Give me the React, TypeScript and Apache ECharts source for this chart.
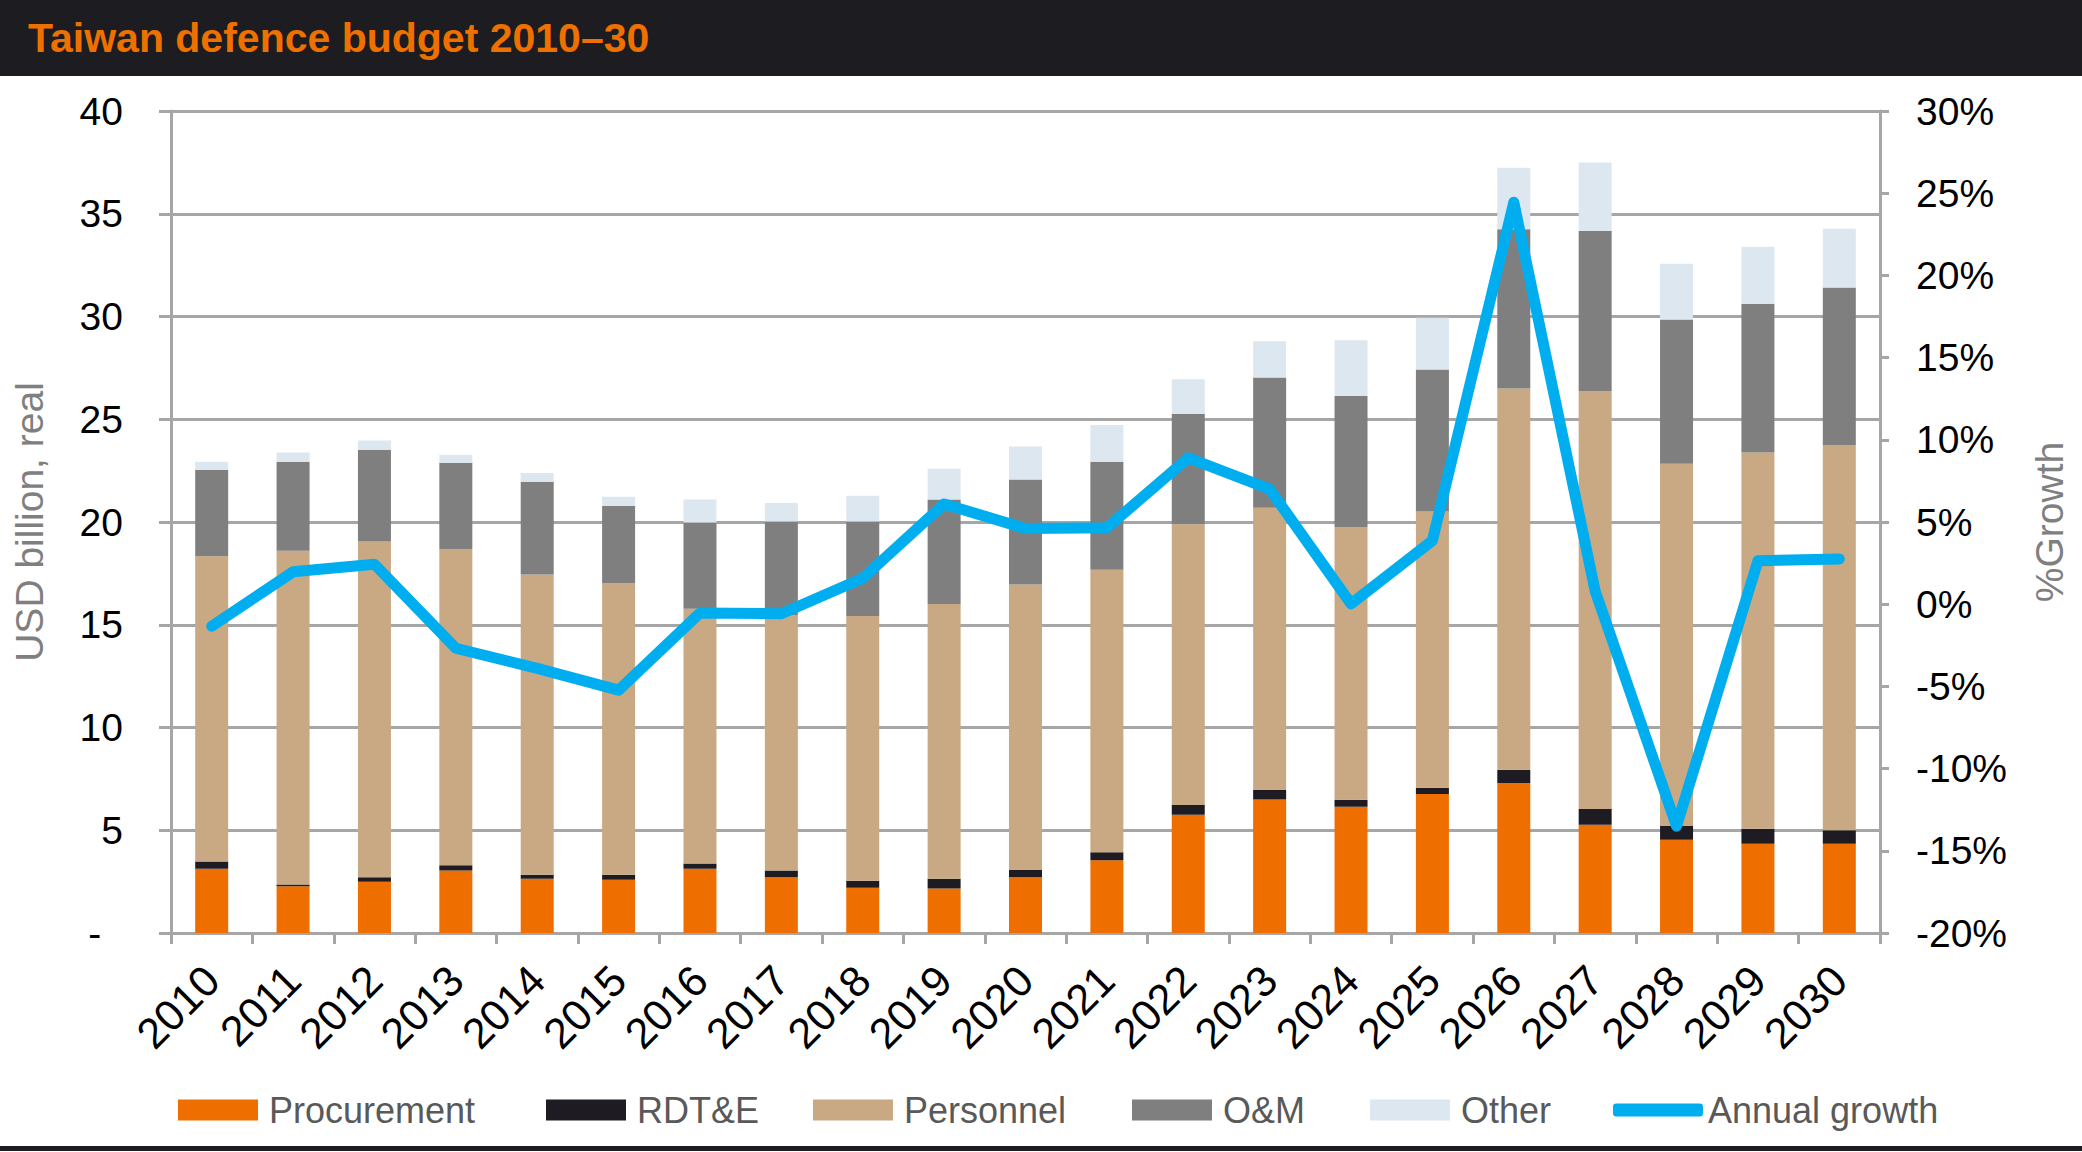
import React, { useEffect, useRef } from "react";
import * as echarts from "echarts";

// years on the x axis
const years = [
  "2010", "2011", "2012", "2013", "2014", "2015", "2016", "2017", "2018", "2019", "2020",
  "2021", "2022", "2023", "2024", "2025", "2026", "2027", "2028", "2029", "2030",
];

// USD billion, real (stacked segments)
const procurement = [3.13, 2.27, 2.5, 3.04, 2.64, 2.59, 3.13, 2.71, 2.2, 2.16, 2.71, 3.54, 5.75, 6.5, 6.14, 6.77, 7.3, 5.27, 4.54, 4.34, 4.34];
const rdte = [0.35, 0.09, 0.21, 0.26, 0.2, 0.25, 0.25, 0.33, 0.34, 0.48, 0.36, 0.39, 0.48, 0.46, 0.34, 0.3, 0.65, 0.77, 0.67, 0.73, 0.66];
const personnel = [14.85, 16.24, 16.34, 15.39, 14.6, 14.19, 12.4, 12.44, 12.88, 13.37, 13.89, 13.75, 13.66, 13.73, 13.28, 13.44, 18.55, 20.34, 17.63, 18.31, 18.75];
const oAndM = [4.2, 4.33, 4.47, 4.19, 4.52, 3.75, 4.2, 4.55, 4.61, 5.08, 5.11, 5.25, 5.38, 6.34, 6.37, 6.91, 7.74, 7.78, 7.01, 7.24, 7.66];
const other = [0.4, 0.45, 0.45, 0.39, 0.43, 0.45, 1.11, 0.89, 1.25, 1.5, 1.61, 1.79, 1.68, 1.77, 2.72, 2.52, 3.0, 3.34, 2.72, 2.78, 2.86];

// % growth (right axis)
const annualGrowth = [-1.34, 1.97, 2.43, -2.68, -3.9, -5.23, -0.54, -0.58, 1.58, 6.1, 4.6, 4.65, 8.9, 7.0, 0.02, 3.87, 24.45, 0.8, -13.5, 2.64, 2.75];

const FONT = "'Liberation Sans', Arial, sans-serif";
const GRID_GREY = "#A6A6A6";

const barSeries = [
  { name: "Procurement", data: procurement, color: "#EE6E00" },
  { name: "RDT&E", data: rdte, color: "#1E1C22" },
  { name: "Personnel", data: personnel, color: "#C8A983" },
  { name: "O&M", data: oAndM, color: "#7F7F7F" },
  { name: "Other", data: other, color: "#DDE7F0" },
];

// legend placement along the bottom
const legendItems = [
  { name: "Procurement", left: 173 },
  { name: "RDT&E", left: 541 },
  { name: "Personnel", left: 808 },
  { name: "O&M", left: 1127 },
  { name: "Other", left: 1365 },
  { name: "Annual growth", left: 1608 },
];

const App = () => {
  const chartRef = useRef(null);

  useEffect(() => {
    document.body.style.margin = "0";
    document.body.style.overflow = "hidden";

    const chart = echarts.init(chartRef.current, null, { renderer: "svg" });

    const option = {
      animation: false,
      backgroundColor: "#FFFFFF",
      title: {
        text: "Taiwan defence budget 2010–30",
        left: 23,
        top: 12,
        textStyle: {
          color: "#EE7100",
          fontFamily: FONT,
          fontWeight: "bold",
          fontSize: 41,
        },
        z: 10,
      },
      graphic: [
        {
          type: "rect",
          left: 0,
          top: 0,
          z: -10,
          shape: { x: 0, y: 0, width: 2082, height: 76 },
          style: { fill: "#1D1D21" },
        },
        {
          type: "rect",
          left: 0,
          top: 1146,
          z: 10,
          shape: { x: 0, y: 0, width: 2082, height: 5 },
          style: { fill: "#1D1D21" },
        },
      ],
      legend: legendItems.map((item) => {
        const isLine = item.name === "Annual growth";
        return {
          data: [{ name: item.name, icon: isLine ? "roundRect" : "rect" }],
          left: item.left,
          top: 1087,
          itemWidth: isLine ? 90 : 80,
          itemHeight: isLine ? 13 : 21,
          selectedMode: false,
          textStyle: {
            color: "#595959",
            fontFamily: FONT,
            fontSize: 36,
            padding: [0, 0, 0, isLine ? 0 : 6],
          },
        };
      }),
      grid: {
        left: 171,
        right: 202,
        top: 111,
        bottom: 219,
      },
      xAxis: {
        type: "category",
        data: years,
        axisLine: { show: true, lineStyle: { color: GRID_GREY, width: 3 } },
        axisTick: { show: true, length: 11, lineStyle: { color: GRID_GREY, width: 3 } },
        axisLabel: {
          rotate: 45,
          margin: 40,
          color: "#000000",
          fontFamily: FONT,
          fontSize: 43,
        },
      },
      yAxis: [
        {
          type: "value",
          min: 0,
          max: 40,
          interval: 5,
          name: "USD billion, real",
          nameLocation: "middle",
          nameRotate: 90,
          nameGap: 122,
          nameTextStyle: { color: "#7F7F7F", fontFamily: FONT, fontSize: 39 },
          axisLine: { show: true, lineStyle: { color: GRID_GREY, width: 3 } },
          axisTick: { show: true, length: 12, lineStyle: { color: GRID_GREY, width: 3 } },
          axisLabel: {
            margin: 48,
            color: "#000000",
            fontFamily: FONT,
            fontSize: 39,
            formatter: (v) => (v === 0 ? "-  " : String(v)),
          },
          splitLine: { show: true, lineStyle: { color: GRID_GREY, width: 3 } },
        },
        {
          type: "value",
          min: -20,
          max: 30,
          interval: 5,
          name: "%Growth",
          nameLocation: "middle",
          nameRotate: 90,
          nameGap: 150,
          nameTextStyle: { color: "#7F7F7F", fontFamily: FONT, fontSize: 39 },
          axisLine: { show: true, lineStyle: { color: GRID_GREY, width: 3 } },
          axisTick: { show: true, length: 9, lineStyle: { color: GRID_GREY, width: 3 } },
          axisLabel: {
            margin: 36,
            color: "#000000",
            fontFamily: FONT,
            fontSize: 39,
            formatter: (v) => `${v}%`,
          },
          splitLine: { show: false },
        },
      ],
      series: [
        ...barSeries.map((s) => ({
          name: s.name,
          type: "bar",
          stack: "total",
          barWidth: 33,
          data: s.data,
          itemStyle: { color: s.color },
        })),
        {
          name: "Annual growth",
          type: "line",
          yAxisIndex: 1,
          data: annualGrowth,
          symbol: "none",
          z: 5,
          itemStyle: { color: "#00AEEF" },
          lineStyle: { color: "#00AEEF", width: 11, join: "round", cap: "round" },
        },
      ],
    };

    chart.setOption(option);

    const handleResize = () => {
      chart.resize();
    };
    window.addEventListener("resize", handleResize);

    return () => {
      window.removeEventListener("resize", handleResize);
      chart.dispose();
    };
  }, []);

  return <div ref={chartRef} style={{ width: "2082px", height: "1152px" }} />;
};

export default App;
